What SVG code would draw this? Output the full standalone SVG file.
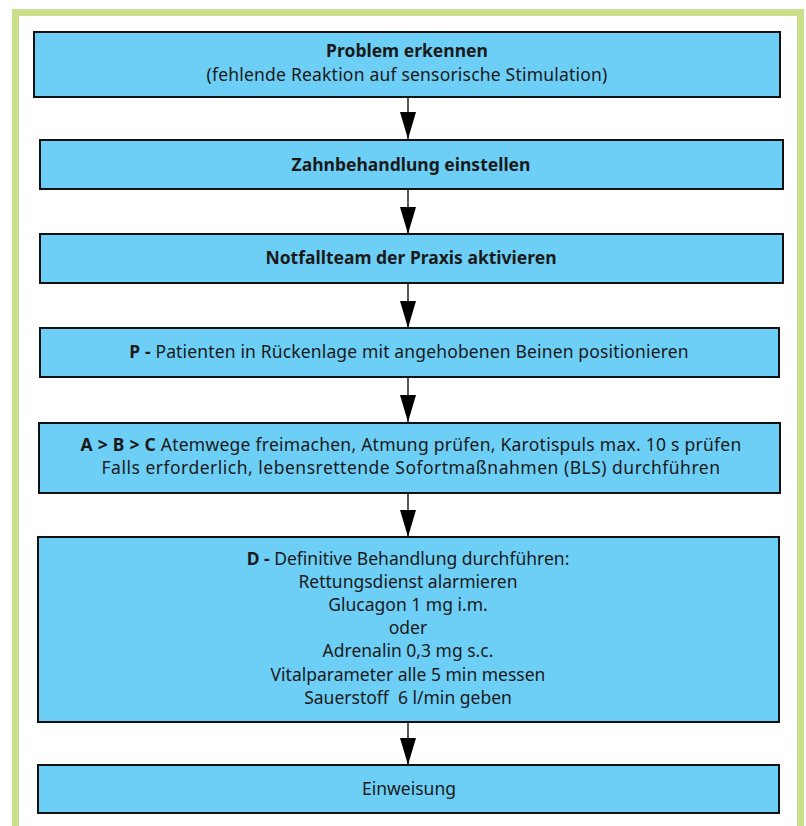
<svg xmlns="http://www.w3.org/2000/svg" width="806" height="826" viewBox="0 0 806 826">
  <style>
    .frame { fill: none; stroke: #c9df8a; stroke-width: 7; }
    .box { fill: #6dcff6; stroke: #111; stroke-width: 2; }
    .t { font-family: "Noto Sans", "Liberation Sans", sans-serif; font-size: 17.5px; fill: #1a1a1a; text-anchor: middle; }
    .b { font-weight: bold; }
    .conn { stroke: #000; stroke-width: 1.3; fill: none; marker-end: url(#head); }
  </style>
  <defs>
    <!-- filled triangular arrowhead, tip at the end of the line -->
    <marker id="head" markerUnits="userSpaceOnUse" markerWidth="27" markerHeight="16" refX="27" refY="8" orient="auto" viewBox="0 0 27 16">
      <polygon points="0,0 27,8 0,16" fill="#000"/>
    </marker>
  </defs>

  <rect width="806" height="826" fill="#fff"/>
  <!-- outer frame, open at the bottom -->
  <path class="frame" d="M15.5,830 V12.5 H800.5 V830"/>

  <g id="connectors">
    <line class="conn" x1="408" y1="97" x2="408" y2="139"/>
    <line class="conn" x1="408" y1="189" x2="408" y2="234"/>
    <line class="conn" x1="408" y1="283" x2="408" y2="328"/>
    <line class="conn" x1="408" y1="377" x2="408" y2="422"/>
    <line class="conn" x1="408" y1="493" x2="408" y2="537"/>
    <line class="conn" x1="408" y1="722" x2="408" y2="765"/>
  </g>

  <g id="problem">
    <rect class="box" x="34" y="32" width="746" height="65"/>
    <text class="t b" x="407" y="57">Problem erkennen</text>
    <text class="t" x="407" y="81" letter-spacing="0.2">(fehlende Reaktion auf sensorische Stimulation)</text>
  </g>

  <g id="stop">
    <rect class="box" x="40" y="140" width="743" height="49"/>
    <text class="t b" x="411" y="171">Zahnbehandlung einstellen</text>
  </g>

  <g id="team">
    <rect class="box" x="40" y="234" width="743" height="49"/>
    <text class="t b" x="411" y="264">Notfallteam der Praxis aktivieren</text>
  </g>

  <g id="position">
    <rect class="box" x="40" y="328" width="739" height="49"/>
    <text class="t" x="409" y="358" letter-spacing="0.15"><tspan class="b">P -</tspan> Patienten in Rückenlage mit angehobenen Beinen positionieren</text>
  </g>

  <g id="abc">
    <rect class="box" x="39" y="423" width="741" height="70"/>
    <text class="t" x="411" y="451" letter-spacing="0.25"><tspan class="b">A &gt; B &gt; C</tspan> Atemwege freimachen, Atmung prüfen, Karotispuls max. 10 s prüfen</text>
    <text class="t" x="411" y="474" letter-spacing="0.5">Falls erforderlich, lebensrettende Sofortmaßnahmen (BLS) durchführen</text>
  </g>

  <g id="definitive">
    <rect class="box" x="38" y="537" width="741" height="185"/>
    <text class="t" x="408" y="565"><tspan class="b">D -</tspan> Definitive Behandlung durchführen:</text>
    <text class="t" x="408" y="588">Rettungsdienst alarmieren</text>
    <text class="t" x="408" y="611">Glucagon 1 mg i.m.</text>
    <text class="t" x="408" y="634">oder</text>
    <text class="t" x="408" y="657">Adrenalin 0,3 mg s.c.</text>
    <text class="t" x="408" y="681">Vitalparameter alle 5 min messen</text>
    <text class="t" x="408" y="704" xml:space="preserve">Sauerstoff  6 l/min geben</text>
  </g>

  <g id="referral">
    <rect class="box" x="38" y="765" width="741" height="48"/>
    <text class="t" x="409" y="795">Einweisung</text>
  </g>
</svg>
